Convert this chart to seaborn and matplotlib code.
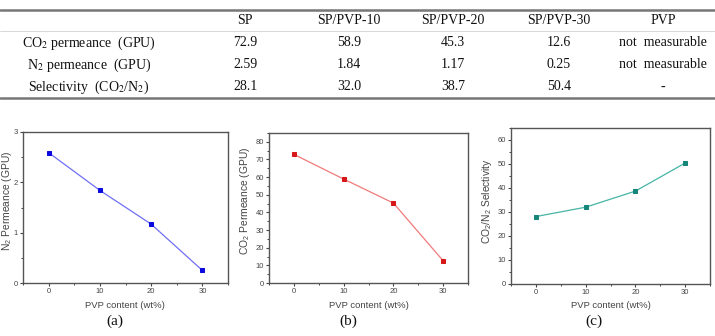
import numpy as np
import pandas as pd
import seaborn as sns
import matplotlib.pyplot as plt
from matplotlib.lines import Line2D
from matplotlib.ticker import MultipleLocator

# -------------------------------
# Data
# -------------------------------
pvp_content = [0, 10, 20, 30]
n2_perm = [2.59, 1.84, 1.17, 0.25]
co2_perm = [72.9, 58.9, 45.3, 12.6]
selectivity = [28.1, 32.0, 38.7, 50.4]

table_cols = ["SP", "SP/PVP-10", "SP/PVP-20", "SP/PVP-30", "PVP"]
table_rows = [r"CO$_2$ permeance  (GPU)", r"N$_2$ permeance  (GPU)",
              r"Selectivity  (CO$_2$/N$_2$)"]
table_vals = [["72.9", "58.9", "45.3", "12.6", "not  measurable"],
              ["2.59", "1.84", "1.17", "0.25", "not  measurable"],
              ["28.1", "32.0", "38.7", "50.4", "-"]]

sns.set_style("ticks")
plt.rcParams["font.family"] = ["Liberation Sans", "DejaVu Sans"]
plt.rcParams["mathtext.fontset"] = "custom"
plt.rcParams["mathtext.rm"] = "Liberation Sans"
plt.rcParams["mathtext.it"] = "Liberation Sans"

W, H = 715, 336
fig = plt.figure(figsize=(W / 100, H / 100), dpi=100)


def fx(px):
    return px / W


def fy(py):
    return 1 - py / H


# -------------------------------
# Table
# -------------------------------
for yy, lw in [(10, 1.8), (31, 0.5), (98, 1.8)]:
    fig.add_artist(Line2D([0, 1], [fy(yy), fy(yy)], transform=fig.transFigure,
                          color="#777777" if lw > 1 else "#c8c8c8", lw=lw))

col_x = [245, 349, 453, 559, 663]
row_y = [43, 65, 87]
serif = dict(family=["Liberation Serif", "DejaVu Serif"], fontsize=10,
             math_fontfamily="stix", color="#111111", ha="center", va="center")
for cx, name in zip(col_x, table_cols):
    fig.text(fx(cx), fy(21), name, **serif)
for ry, label, vals in zip(row_y, table_rows, table_vals):
    fig.text(fx(89), fy(ry), label, **serif)
    for cx, v in zip(col_x, vals):
        fig.text(fx(cx), fy(ry), v, **serif)

# -------------------------------
# Panels
# -------------------------------
panels = [
    dict(box=(23, 132, 228, 283), y=n2_perm, ylim=(0, 3), major=1, minor=0.5,
         ylabel=r"N$_2$ Permeance (GPU)", mc="#0a0ae0", lc="#6f6ff5",
         ylab_x=7, xlab_x=125, cap_x=115, cap="(a)"),
    dict(box=(269, 133, 468, 283), y=co2_perm, ylim=(0, 85), major=10, minor=5,
         ylabel=r"CO$_2$ Permeance (GPU)", mc="#d81818", lc="#f07a7a",
         ylab_x=245, xlab_x=369, cap_x=348, cap="(b)"),
    dict(box=(511, 128, 710, 284), y=selectivity, ylim=(0, 65), major=10, minor=5,
         ylabel=r"CO$_2$/N$_2$ Selectivity", mc="#16857a", lc="#45b5a5",
         ylab_x=487, xlab_x=611, cap_x=594, cap="(c)"),
]

for p in panels:
    l, t, r, b = p["box"]
    ax = fig.add_axes([fx(l), fy(b), (r - l) / W, (b - t) / H])
    df = pd.DataFrame({"x": pvp_content, "y": p["y"]})
    sns.lineplot(data=df, x="x", y="y", ax=ax, color=p["lc"], lw=0.9,
                 marker="s", markersize=3.2, markerfacecolor=p["mc"],
                 markeredgecolor=p["mc"])
    ax.set_xlim(-5, 35)
    ax.set_ylim(*p["ylim"])
    ax.xaxis.set_major_locator(MultipleLocator(10))
    ax.xaxis.set_minor_locator(MultipleLocator(5))
    ax.yaxis.set_major_locator(MultipleLocator(p["major"]))
    ax.yaxis.set_minor_locator(MultipleLocator(p["minor"]))
    ax.tick_params(which="major", length=2.4, width=0.8, color="#444444",
                   labelsize=5.5, labelcolor="#444444", pad=1.2)
    ax.tick_params(which="minor", length=1.3, width=0.7, color="#444444")
    for s in ax.spines.values():
        s.set_color("#555555")
        s.set_linewidth(1.0)
        s.set_visible(True)
    ax.set_xlabel("")
    ax.set_ylabel("")
    fig.text(fx(p["xlab_x"]), fy(305), "PVP content (wt%)", fontsize=6.8,
             color="#444444", ha="center", va="center")
    fig.text(fx(p["ylab_x"]), fy(201), p["ylabel"], fontsize=7.4,
             color="#444444", ha="center", va="center", rotation=90)
    fig.text(fx(p["cap_x"]), fy(321), p["cap"], fontsize=11,
             family=["Liberation Serif", "DejaVu Serif"], color="#111111",
             ha="center", va="center")

fig.savefig("out.png", dpi=100)
